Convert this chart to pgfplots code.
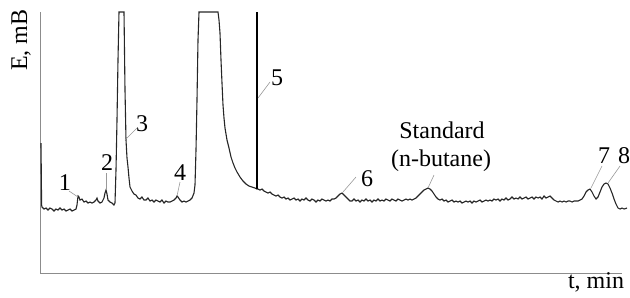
\documentclass[border=0pt]{standalone}
\usepackage{pgfplots}
\usepackage{pgfplotstable}
\pgfplotsset{compat=1.18}
\usepackage{fontspec}
\setmainfont{Liberation Serif}

\pgfplotstableread{
x py
41 143
41.6 205
42 207
44 209
46 208
48 210
50 208
52 209
54 211
56 209
58 210
60 208
62 210
64 209
66 211
68 210
70 209
72 211
74 210
76 209
77 205
78 196
79 197
80 200
82 199
84 202
86 201
88 203
90 202
92 203
94 202
96 200
97 198
98 201
100 203
102 202
104 198
105 193
106 190
107 194
108 200
110 202
112 203
114 205
115 203
116 170
117 120
118 60
119 12
124 12
125 90
126 140
127 158
128 167
129 178
130 187
132 191
134 194
136 195
138 198
140 199
142 197
144 200
146 200
148 198
150 201
152 200
154 202
156 200
158 201
160 202
162 200
164 203
166 201
168 202
170 202
172 201
174 200
176 198
177 196
178 197
180 200
182 202
184 201
186 202
188 201
190 200
192 198
194 193
195 185
196 150
197 100
198 40
199 12
218 12
219 20
220 33
221 60
222 83
223 105
224 118
225 128
227 140
229 148
231 157
233 163
235 168
237 172
240 177
243 181
246 184
249 186
252 187
255 188
257 189
258 189
260 190
262 189
264 191
266 192
268 193
270 192
272 194
274 195
276 196
278 195
280 197
282 198
284 197
286 199
288 198
290 200
292 199
294 198
296 200
298 199
300 201
302 199
304 200
306 198
308 200
310 201
312 199
314 200
316 202
318 200
320 201
322 199
324 200
326 201
328 200
330 201
332 199
334 199
336 198
338 196
340 194
342 193
344 195
346 197
348 199
350 201
352 201
354 199
356 201
358 200
360 202
362 200
364 201
366 199
368 201
370 200
372 202
374 200
376 201
378 199
380 201
382 200
384 201
386 199
388 200
390 201
392 199
394 200
396 201
398 199
400 200
402 201
404 200
406 199
408 200
410 199
412 200
414 199
416 198
418 196
420 194
422 192
424 190
426 189
428 188
430 189
432 191
434 194
436 197
438 199
440 200
442 199
444 201
446 200
448 202
450 201
452 200
454 202
456 201
458 202
460 201
462 203
464 202
466 201
468 202
470 201
472 203
474 201
476 202
478 201
480 200
482 202
484 201
486 200
488 201
490 200
492 201
494 199
496 200
498 199
500 201
502 199
504 200
506 198
508 200
510 199
512 197
514 199
516 198
518 199
520 197
522 199
524 198
526 197
528 199
530 198
532 197
534 199
536 197
538 198
540 197
542 199
544 196
546 198
548 197
550 196
552 198
554 200
556 201
558 202
560 201
562 202
564 201
566 202
568 201
570 201
572 202
574 201
576 201
578 201
580 200
582 199
584 196
586 192
588 190
590 189
592 192
594 196
596 199
598 197
600 192
602 187
604 184
606 183
608 184
610 188
612 193
614 199
616 204
618 208
620 209
622 208
624 209
627 208
}\trace

\begin{document}
\begin{tikzpicture}[lab/.style={font=\fontsize{12}{14}\selectfont, inner sep=0pt}]
\begin{axis}[
  name=ax,
  scale only axis,
  width=290.5pt, height=130.5pt,
  xmin=41, xmax=622, ymin=12, ymax=273,
  y dir=reverse,
  axis lines=none,
  clip=false,
  xtick=\empty, ytick=\empty,
]
\draw[black!45, line width=0.5pt] (axis cs:41,12) -- (axis cs:41,273) -- (axis cs:622,273);
\addplot[black!85, line width=0.55pt, mark=none] table[x=x, y=py] {\trace};
\addplot[black, line width=1.1pt, mark=none] coordinates {(257,189) (257,12)};
% leader lines
\draw[black!40, line width=0.3pt] (axis cs:69,191) -- (axis cs:78,197);
\draw[black!40, line width=0.3pt] (axis cs:106,173) -- (axis cs:106,190);
\draw[black!40, line width=0.3pt] (axis cs:137,128) -- (axis cs:125,140);
\draw[black!40, line width=0.3pt] (axis cs:180,182) -- (axis cs:177,196);
\draw[black!40, line width=0.3pt] (axis cs:270,82) -- (axis cs:258,98);
\draw[black!40, line width=0.3pt] (axis cs:356,177) -- (axis cs:343,192);
\draw[black!40, line width=0.3pt] (axis cs:434,175) -- (axis cs:428,188);
\draw[black!40, line width=0.3pt] (axis cs:602,166) -- (axis cs:591,188);
\draw[black!40, line width=0.3pt] (axis cs:620,166) -- (axis cs:608,183);
% labels
\node[lab, anchor=base] at (axis cs:65,190) {1};
\node[lab, anchor=base] at (axis cs:107,170) {2};
\node[lab, anchor=base] at (axis cs:142,131.5) {3};
\node[lab, anchor=base] at (axis cs:180,180) {4};
\node[lab, anchor=base] at (axis cs:277,85) {5};
\node[lab, anchor=base] at (axis cs:367,186.5) {6};
\node[lab, anchor=base] at (axis cs:442,138) {Standard};
\node[lab, anchor=base] at (axis cs:441,166) {(n-butane)};
\node[lab, anchor=base] at (axis cs:604,163) {7};
\node[lab, anchor=base] at (axis cs:624,163) {8};
\node[lab, rotate=90] at (axis cs:21,40) {E, mB};
\node[lab, anchor=base] at (axis cs:596,288) {t, min};
\end{axis}
\pgfresetboundingbox
\path[use as bounding box] ([shift={(-20.5pt,-12pt)}]ax.south west) rectangle ([shift={(4pt,6pt)}]ax.north east);
\end{tikzpicture}
\end{document}
